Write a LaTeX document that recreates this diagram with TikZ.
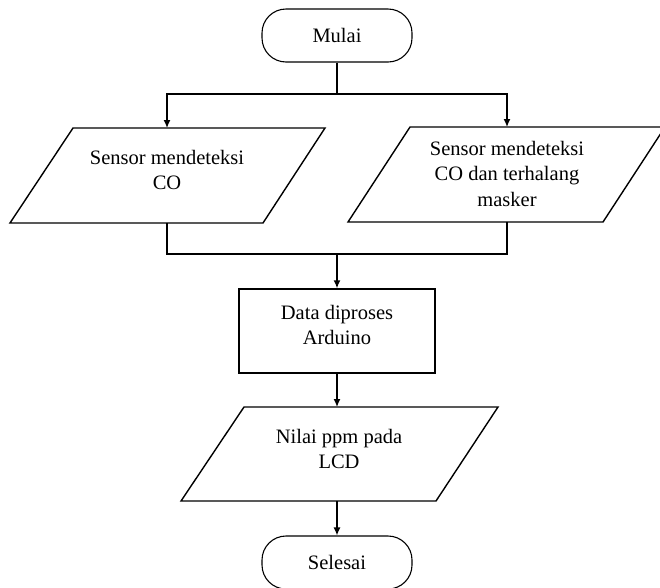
\documentclass[tikz,border=0pt]{standalone}
\usepackage{fontspec}
\setmainfont{Liberation Serif}
\usetikzlibrary{arrows.meta}
\begin{document}
\begin{tikzpicture}[x=1pt,y=-1pt,
  ln/.style={line width=1.4pt},
  arr/.style={ln,-{Latex[length=8pt,width=7pt]}},
  shp/.style={line width=1.4pt,line join=miter},
  term/.style={draw,line width=1.1pt,rounded corners=24pt,minimum width=150pt,minimum height=53pt,inner sep=0pt,font=\fontsize{20.5}{25}\selectfont},
  procbox/.style={draw,line width=1.4pt,minimum width=196pt,minimum height=84pt,inner sep=0pt},
  txt/.style={align=center,inner sep=0pt,font=\fontsize{20.5}{25.5}\selectfont}]
\useasboundingbox[fill=white] (0,0) rectangle (660,587);

% start
\node[term] (mulai) at (337,35.5) {Mulai};
\coordinate (split) at (337,94);

% left input
\draw[shp] (73,128) -- (325,128) -- (263,223) -- (10,223) -- cycle;
\coordinate (lpT) at (167,128);
\coordinate (lpB) at (167,223);
\node[txt] (lp) at (167,170) {Sensor mendeteksi\\CO};

% right input
\draw[shp] (410,127) -- (665,127) -- (603,222) -- (348,222) -- cycle;
\coordinate (rpT) at (507,127);
\coordinate (rpB) at (507,222);
\node[txt] (rp) at (507,173.5) {Sensor mendeteksi\\CO dan terhalang\\masker};

\coordinate (join) at (337,254);

% process
\node[procbox] (proc) at (337,331) {};
\node[txt] (proct) at (337,325) {Data diproses\\Arduino};

% output
\draw[shp] (244,407) -- (498,407) -- (436,501) -- (181,501) -- cycle;
\coordinate (opT) at (337,407);
\coordinate (opB) at (337,501);
\node[txt] (op) at (339,449) {Nilai ppm pada\\LCD};

% end
\node[term] (selesai) at (337,562.5) {Selesai};

% connectors
\draw[ln] (mulai.south) -- (split);
\draw[arr] (split) -| (lpT);
\draw[arr] (split) -| (rpT);
\draw[ln] (lpB) |- (join);
\draw[ln] (rpB) |- (join);
\draw[arr] (join) -- (proc.north);
\draw[arr] (proc.south) -- (opT);
\draw[arr] (opB) -- (selesai.north);
\end{tikzpicture}
\end{document}
